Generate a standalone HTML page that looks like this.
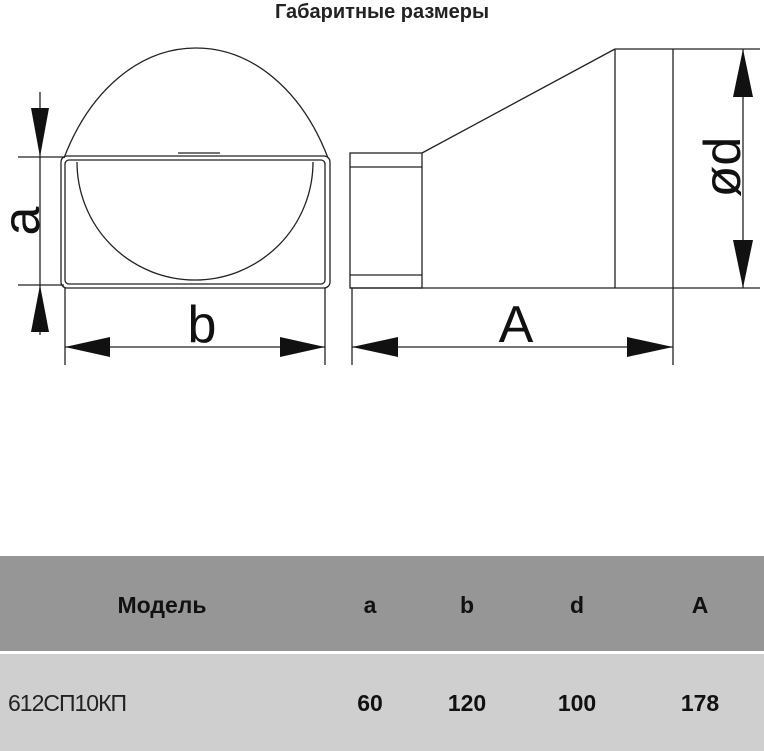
<!DOCTYPE html>
<html><head><meta charset="utf-8"><style>
body{margin:0;width:764px;height:751px;background:#fff;position:relative;overflow:hidden;font-family:"Liberation Sans","DejaVu Sans",sans-serif}
.t{position:absolute;white-space:nowrap}
</style></head><body>
<div class="t" style="left:0;width:764px;top:1px;text-align:center;font-weight:bold;font-size:20px;color:#222">Габаритные размеры</div>
<svg width="764" height="751" style="position:absolute;left:0;top:0" xmlns="http://www.w3.org/2000/svg">
<g fill="none" stroke="#222" stroke-width="1.3">
<path d="M64 158 C 90 90, 140 48, 196 48 C 252 48, 302 90, 328 158"/>
<rect x="61" y="156" width="269" height="132" rx="6"/>
<rect x="65" y="160" width="260" height="124" rx="4"/>
<path d="M77 162 A 118 118 0 0 0 313 162"/>
<line x1="178" y1="153" x2="220" y2="153"/>
<line x1="40" y1="92" x2="40" y2="335"/>
<line x1="18" y1="157" x2="64" y2="157"/>
<line x1="18" y1="285" x2="64" y2="285"/>
<line x1="65" y1="288" x2="65" y2="365"/>
<line x1="325" y1="288" x2="325" y2="365"/>
<line x1="65" y1="347" x2="325" y2="347"/>
<rect x="350" y="153" width="72" height="135"/>
<line x1="350" y1="167" x2="422" y2="167"/>
<line x1="350" y1="275" x2="422" y2="275"/>
<line x1="422" y1="153" x2="615" y2="49"/>
<line x1="615" y1="49" x2="615" y2="288"/>
<line x1="673" y1="49" x2="673" y2="365"/>
<line x1="615" y1="49" x2="760" y2="49"/>
<line x1="350" y1="288" x2="760" y2="288"/>
<line x1="743" y1="49" x2="743" y2="288"/>
<line x1="352" y1="288" x2="352" y2="365"/>
<line x1="352" y1="347" x2="673" y2="347"/>
</g>
<g fill="#111">
<polygon points="40,157 31,108 49,108"/>
<polygon points="40,285 31,332 49,332"/>
<polygon points="65,347 110,337 110,357"/>
<polygon points="325,347 280,337 280,357"/>
<polygon points="352,347 398,337 398,357"/>
<polygon points="673,347 627,337 627,357"/>
<polygon points="743,49 733,97 753,97"/>
<polygon points="743,288 733,240 753,240"/>
</g>
<g font-family="Liberation Sans, sans-serif" fill="#111" font-size="52">
<text x="202" y="342" text-anchor="middle">b</text>
<text x="516" y="342" text-anchor="middle">A</text>
<text transform="translate(39,221) rotate(-90)" text-anchor="middle">a</text>
<text transform="translate(740,167) rotate(-90)" text-anchor="middle">ød</text>
</g>
</svg>
<div style="position:absolute;left:0;top:556px;width:764px;height:95px;background:#969696"></div>
<div style="position:absolute;left:0;top:654px;width:764px;height:97px;background:#cfcfcf"></div>
<div class="t" style="left:90px;width:144px;text-align:center;top:592px;font-weight:bold;font-size:23px;color:#111">Модель</div>
<div class="t" style="left:340px;width:60px;text-align:center;top:592px;font-weight:bold;font-size:23px;color:#111">a</div>
<div class="t" style="left:437px;width:60px;text-align:center;top:592px;font-weight:bold;font-size:23px;color:#111">b</div>
<div class="t" style="left:547px;width:60px;text-align:center;top:592px;font-weight:bold;font-size:23px;color:#111">d</div>
<div class="t" style="left:670px;width:60px;text-align:center;top:592px;font-weight:bold;font-size:23px;color:#111">A</div>
<div class="t" style="left:8px;top:690px;font-size:23px;color:#222;letter-spacing:-1px">612СП10КП</div>
<div class="t" style="left:340px;width:60px;text-align:center;top:690px;font-weight:bold;font-size:23px;color:#111">60</div>
<div class="t" style="left:437px;width:60px;text-align:center;top:690px;font-weight:bold;font-size:23px;color:#111">120</div>
<div class="t" style="left:547px;width:60px;text-align:center;top:690px;font-weight:bold;font-size:23px;color:#111">100</div>
<div class="t" style="left:670px;width:60px;text-align:center;top:690px;font-weight:bold;font-size:23px;color:#111">178</div>
</body></html>
